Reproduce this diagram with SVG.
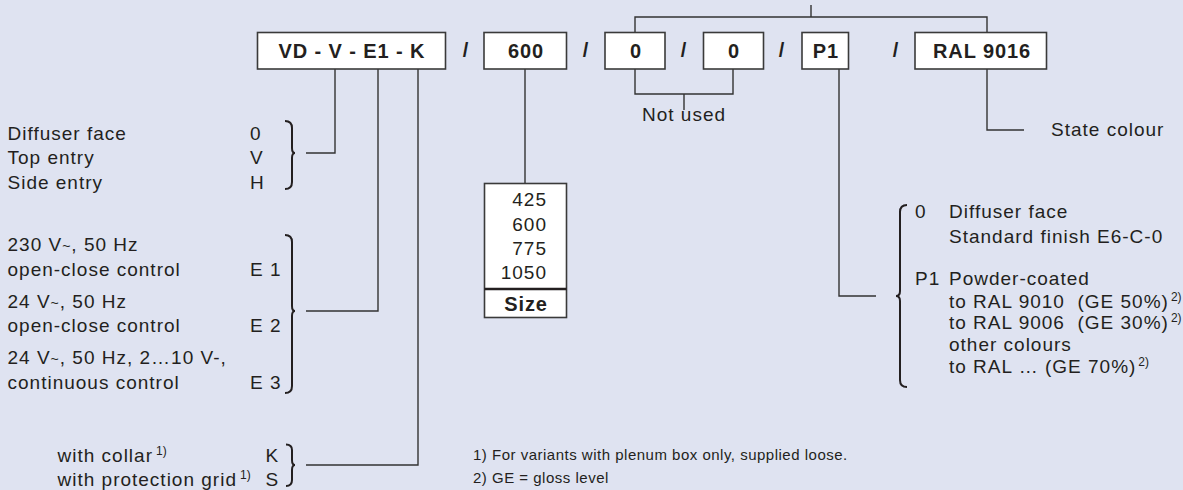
<svg xmlns="http://www.w3.org/2000/svg" width="1183" height="490" viewBox="0 0 1183 490">
<style>
.t{font-family:"Liberation Sans",Arial,sans-serif;font-size:19px;fill:#231f20;letter-spacing:1px}
.b{font-family:"Liberation Sans",Arial,sans-serif;font-size:20px;font-weight:bold;fill:#231f20;letter-spacing:0.9px;text-anchor:middle}
.f{font-family:"Liberation Sans",Arial,sans-serif;font-size:15px;fill:#231f20;letter-spacing:0.5px}
.sup{font-size:12px;letter-spacing:0}
.til{font-size:14px}
.box{fill:#fff;stroke:#3a3a3a;stroke-width:1.6}
.ln{fill:none;stroke:#333;stroke-width:1.4}
.br{fill:none;stroke:#231f20;stroke-width:2}
</style>
<rect width="1183" height="490" fill="#dfe3f1"/>

<g id="connectors">
<path class="ln" d="M335,69V153H306"/>
<path class="ln" d="M378,69V311H306"/>
<path class="ln" d="M418,69V465H306"/>
<path class="ln" d="M525,69V183"/>
<path class="ln" d="M635,69V94H733V69M684,94V110"/>
<path class="ln" d="M635,32V17H987V32M811,17V5"/>
<path class="ln" d="M839,69V296H876"/>
<path class="ln" d="M987,69V130H1024"/>
</g>

<g id="code-boxes">
<g id="box-type"><rect class="box" x="257.5" y="32.5" width="188" height="36.5"/><text class="b" x="352" y="58">VD - V - E1 - K</text></g>
<text class="b" x="466" y="57">/</text>
<g id="box-size"><rect class="box" x="484" y="32.5" width="82.5" height="36.5"/><text class="b" x="526" y="58">600</text></g>
<text class="b" x="586" y="57">/</text>
<g id="box-0a"><rect class="box" x="605" y="32.5" width="60" height="36.5"/><text class="b" x="636" y="58">0</text></g>
<text class="b" x="684" y="57">/</text>
<g id="box-0b"><rect class="box" x="703.5" y="32.5" width="60" height="36.5"/><text class="b" x="734" y="58">0</text></g>
<text class="b" x="782" y="57">/</text>
<g id="box-p1"><rect class="box" x="802" y="32.5" width="46.5" height="36.5"/><text class="b" x="826" y="58">P1</text></g>
<text class="b" x="896" y="57">/</text>
<g id="box-ral"><rect class="box" x="915" y="32.5" width="131.5" height="36.5"/><text class="b" x="982" y="58">RAL 9016</text></g>
</g>

<g id="not-used"><text class="t" x="684" y="121" text-anchor="middle">Not used</text></g>
<g id="state-colour"><text class="t" x="1051" y="136">State colour</text></g>

<g id="entry-options">
<text class="t" x="7.5" y="139.5">Diffuser face</text>
<text class="t" x="7.5" y="164">Top entry</text>
<text class="t" x="7.5" y="188.5">Side entry</text>
<text class="t" x="250" y="139.5">0</text>
<text class="t" x="250" y="164">V</text>
<text class="t" x="250" y="188.5">H</text>
<path class="br" d="M285,121Q292,121 292,128V148Q292,153 295,153Q292,153 292,158V182Q292,189 285,189"/>
</g>

<g id="control-options">
<text class="t" x="7.5" y="251">230 V<tspan class="til">~</tspan>, 50 Hz</text>
<text class="t" x="7.5" y="275.5">open-close control</text>
<text class="t" x="7.5" y="307.5">24 V<tspan class="til">~</tspan>, 50 Hz</text>
<text class="t" x="7.5" y="332">open-close control</text>
<text class="t" x="7.5" y="364">24 V<tspan class="til">~</tspan>, 50 Hz, 2…10 V-,</text>
<text class="t" x="7.5" y="388.5">continuous control</text>
<text class="t" x="250" y="275.5">E 1</text>
<text class="t" x="250" y="332">E 2</text>
<text class="t" x="250" y="388.5">E 3</text>
<path class="br" d="M285,235Q292,235 292,242V306Q292,311 295,311Q292,311 292,316V386Q292,393 285,393"/>
</g>

<g id="accessory-options">
<text class="t" x="57.5" y="462">with collar<tspan class="sup" dx="3" dy="-7">1)</tspan></text>
<text class="t" x="57.5" y="486">with protection grid<tspan class="sup" dx="3" dy="-7">1)</tspan></text>
<text class="t" x="265.5" y="462">K</text>
<text class="t" x="265.5" y="486">S</text>
<path class="br" d="M286,444.5Q292,444.5 292,450V460Q292,465 295,465Q292,465 292,470V480Q292,486 286,486"/>
</g>

<g id="size-table">
<rect class="box" x="484.5" y="183.5" width="82" height="134"/>
<line x1="484.5" y1="289" x2="566.5" y2="289" stroke="#231f20" stroke-width="2.5"/>
<text class="t" x="547" y="206" text-anchor="end">425</text>
<text class="t" x="547" y="230.5" text-anchor="end">600</text>
<text class="t" x="547" y="254.5" text-anchor="end">775</text>
<text class="t" x="547" y="279" text-anchor="end">1050</text>
<text class="b" x="526" y="311">Size</text>
</g>

<g id="finish-options">
<path class="br" d="M907,205Q900,205 900,212V291Q900,296 896,296Q900,296 900,301V380Q900,387 907,387"/>
<text class="t" x="915" y="218">0</text>
<text class="t" x="949" y="218">Diffuser face</text>
<text class="t" x="949" y="242.5">Standard finish E6-C-0</text>
<text class="t" x="915" y="284.5">P1</text>
<text class="t" x="949" y="284.5">Powder-coated</text>
<text class="t" x="949" y="307.5" xml:space="preserve">to RAL 9010  (GE 50%)<tspan class="sup" dx="2" dy="-7">2)</tspan></text>
<text class="t" x="949" y="329" xml:space="preserve">to RAL 9006  (GE 30%)<tspan class="sup" dx="2" dy="-7">2)</tspan></text>
<text class="t" x="949" y="350.5">other colours</text>
<text class="t" x="949" y="373">to RAL … (GE 70%)<tspan class="sup" dx="2" dy="-7">2)</tspan></text>
</g>

<g id="footnotes">
<text class="f" x="473" y="460">1) For variants with plenum box only, supplied loose.</text>
<text class="f" x="473" y="483">2) GE = gloss level</text>
</g>
</svg>
